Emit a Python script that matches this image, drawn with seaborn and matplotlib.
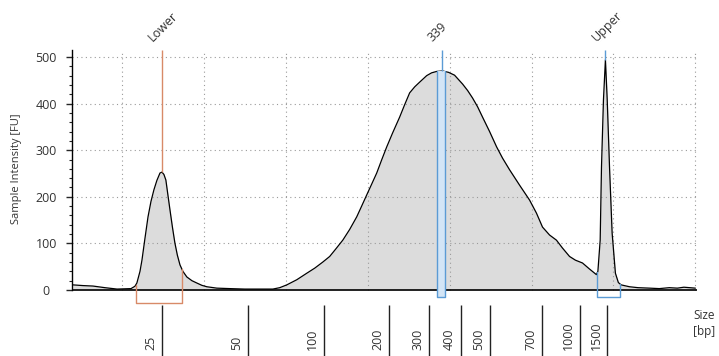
import numpy as np
import matplotlib
matplotlib.use("Agg")
import matplotlib.pyplot as plt
from matplotlib.ticker import FixedLocator
import seaborn as sns


# electropherogram trace: migration time [s] -> intensity [FU]
trace_time = [
    17.01, 17.62, 18.23, 18.96, 19.70, 20.55, 20.79, 20.91, 21.10, 21.22,
    21.40, 21.59, 21.77, 21.95, 22.13, 22.32, 22.44, 22.56, 22.68, 22.80,
    22.93, 23.08, 23.23, 23.38, 23.54, 23.72, 23.96, 24.27, 24.57, 24.88,
    25.18, 25.79, 26.59, 27.50, 28.41, 29.21, 29.63, 30.06, 30.67, 31.28,
    31.77, 32.26, 32.68, 33.05, 33.48, 33.90, 34.33, 34.63, 34.94, 35.24,
    35.55, 35.85, 36.16, 36.52, 36.95, 37.26, 37.56, 37.87, 38.17, 38.60,
    38.90, 39.21, 39.57, 39.94, 40.30, 40.79, 41.10, 41.40, 41.71, 42.01,
    42.44, 42.87, 43.23, 43.66, 44.27, 44.88, 45.30, 45.67, 46.10, 46.52,
    46.89, 47.32, 47.68, 48.11, 48.54, 48.96, 49.05, 49.19, 49.27, 49.39,
    49.51, 49.62, 49.76, 49.92, 50.12, 50.30, 50.47, 50.98, 51.50, 52.20,
    52.80, 53.41, 53.90, 54.30, 55.00,
]
trace_fu = [
    11, 9.5, 8.5, 5, 2, 3, 8, 15, 40, 64,
    110, 157, 190, 215, 235, 251, 253, 248, 236, 205,
    172, 135, 101, 75, 54, 40, 28, 20, 15, 10,
    7, 4, 3, 2, 2, 2, 5, 11, 22, 36,
    47, 60, 72, 88, 107, 130, 157, 180, 204, 227,
    251, 279, 307, 337, 371, 398, 423, 436, 446, 460,
    466, 469, 470, 467, 461, 442, 428, 412, 393, 371,
    340, 307, 283, 258, 225, 193, 165, 135, 118, 107,
    90, 72, 64, 58, 45, 33, 40, 107, 264, 408,
    494, 408, 264, 122, 36, 16, 11, 7, 5, 4,
    3, 5, 4, 6, 4,
]

# size ladder shown under the axis
ladder_bp = ["25", "50", "100", "200", "300", "400", "500", "700", "1000", "1500"]
ladder_time = [22.44, 27.68, 32.32, 36.28, 38.72, 40.67, 42.44, 45.61, 47.93, 49.63]

# called peaks / markers
marker_labels = ["Lower", "339", "Upper"]
marker_time = [22.44, 39.51, 49.51]
marker_from = [20.85, 39.21, 49.02]
marker_to = [23.66, 39.70, 50.43]
marker_colors = ["#d88a68", "#5b9bd5", "#5b9bd5"]
marker_filled = [False, True, False]
marker_bottom = [-28, -15, -15]

y_major = [0, 100, 200, 300, 400, 500]
grid_time = [20, 25, 30, 35, 40, 45, 50, 55]

XMIN, XMAX = 16.95, 55.1
YTOP, YBOT = 515, -141.6

sns.set_style("white")
plt.rcParams["font.family"] = ["Open Sans", "DejaVu Sans"]

fig = plt.figure(figsize=(7.19, 3.56), dpi=100)
ax = fig.add_axes([72 / 719, 0, 625 / 719, 306 / 356])
ax.set_xlim(XMIN, XMAX)
ax.set_ylim(YBOT, YTOP)

# dotted grid, only inside the plotting area
grid_kw = dict(color="#9a9a9a", lw=0.8, linestyle=(0, (1, 3)), zorder=2)
ax.hlines(y_major[1:], XMIN, XMAX, **grid_kw)
ax.vlines(grid_time, 0, YTOP, clip_on=False, **grid_kw)

# trace
ax.fill_between(trace_time, trace_fu, 0, color="#dcdcdc", lw=0, zorder=1)
sns.lineplot(x=trace_time, y=trace_fu, color="black", lw=0.9,
             estimator=None, sort=False, ax=ax, zorder=4)
ax.hlines(0, XMIN, XMAX, color="black", lw=1.2, zorder=5)

# markers
for lab, t, t0, t1, col, filled, bot in zip(marker_labels, marker_time, marker_from,
                                            marker_to, marker_colors, marker_filled,
                                            marker_bottom):
    h_peak = np.interp(t, trace_time, trace_fu)
    h0 = np.interp(t0, trace_time, trace_fu)
    h1 = np.interp(t1, trace_time, trace_fu)
    ax.vlines(t, h_peak, YTOP, color=col, lw=1.0, zorder=6, clip_on=False)
    if filled:
        top = min(h0, h1)
        ax.fill_between([t0, t1], [top, top], bot, color="#d3e5f6", lw=0, zorder=5)
    ax.plot([t0, t0, t1, t1], [h0, bot, bot, h1], color=col, lw=1.0, zorder=6)
    ax.annotate(lab, xy=(t, YTOP), xytext=(-9, 8), textcoords="offset pixels",
                rotation=45, rotation_mode="anchor", ha="left", va="baseline",
                fontsize=9, color="#333333", annotation_clip=False)

# size ladder under the axis
ax.vlines(ladder_time, YBOT, -32, color="#222222", lw=1.0)
for bp, t in zip(ladder_bp, ladder_time):
    ax.annotate(bp, xy=(t, -128.8), xytext=(-11, 0), textcoords="offset pixels",
                rotation=90, ha="center", va="bottom", fontsize=9, color="#333333")

# axes styling
for side in ["top", "right", "bottom"]:
    ax.spines[side].set_visible(False)
ax.spines["left"].set_bounds(0, YTOP)
ax.spines["left"].set_color("black")
ax.spines["left"].set_linewidth(1.0)
ax.set_xticks([])
ax.set_yticks(y_major)
ax.yaxis.set_minor_locator(FixedLocator([v for v in range(20, 520, 20) if v % 100]))
ax.tick_params(axis="y", which="major", direction="out", length=4, width=1,
               pad=14.5, labelsize=9, left=True, labelcolor="#333333")
ax.tick_params(axis="y", which="minor", direction="out", length=2, width=0.8, left=True)
plt.setp(ax.get_yticklabels(), ha="center")

fig.text(17 / 719, 1 - 169 / 356, "Sample Intensity [FU]", rotation=90,
         ha="center", va="center", fontsize=8, color="#333333")
fig.text(693 / 719, 1 - 309 / 356, "Size\n[bp]", ha="left", va="top",
         fontsize=8.5, color="#333333", linespacing=1.35)

fig.savefig("out.png", dpi=100)
